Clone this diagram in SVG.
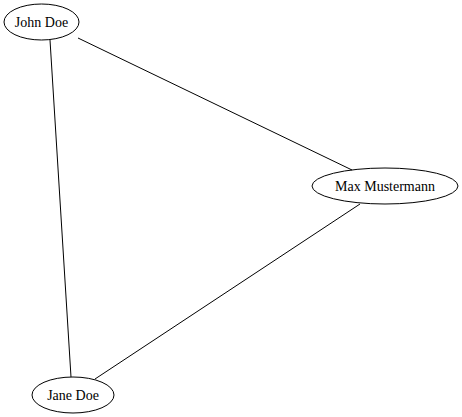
<svg xmlns="http://www.w3.org/2000/svg" width="462" height="417" viewBox="0 0 462 417">
<style>
.n ellipse{fill:none;stroke:#000;stroke-width:1}
.n text{font-family:"Liberation Serif","Times New Roman",serif;font-size:14px;fill:#000;text-anchor:middle}
.e line{stroke:#000;stroke-width:1}
</style>
<rect width="462" height="417" fill="#fff"/>
<g id="edges" class="e">
<line x1="78" y1="38" x2="352" y2="170"/>
<line x1="50" y1="40" x2="71" y2="377"/>
<line x1="360" y1="204" x2="95" y2="379"/>
</g>
<g id="john" class="n">
<ellipse cx="41.5" cy="22" rx="37.5" ry="18"/>
<text x="41.5" y="26.5">John Doe</text>
</g>
<g id="max" class="n">
<ellipse cx="385" cy="186" rx="73" ry="18"/>
<text x="385" y="190.5">Max Mustermann</text>
</g>
<g id="jane" class="n">
<ellipse cx="73" cy="395" rx="41" ry="18"/>
<text x="73" y="399.5">Jane Doe</text>
</g>
</svg>
